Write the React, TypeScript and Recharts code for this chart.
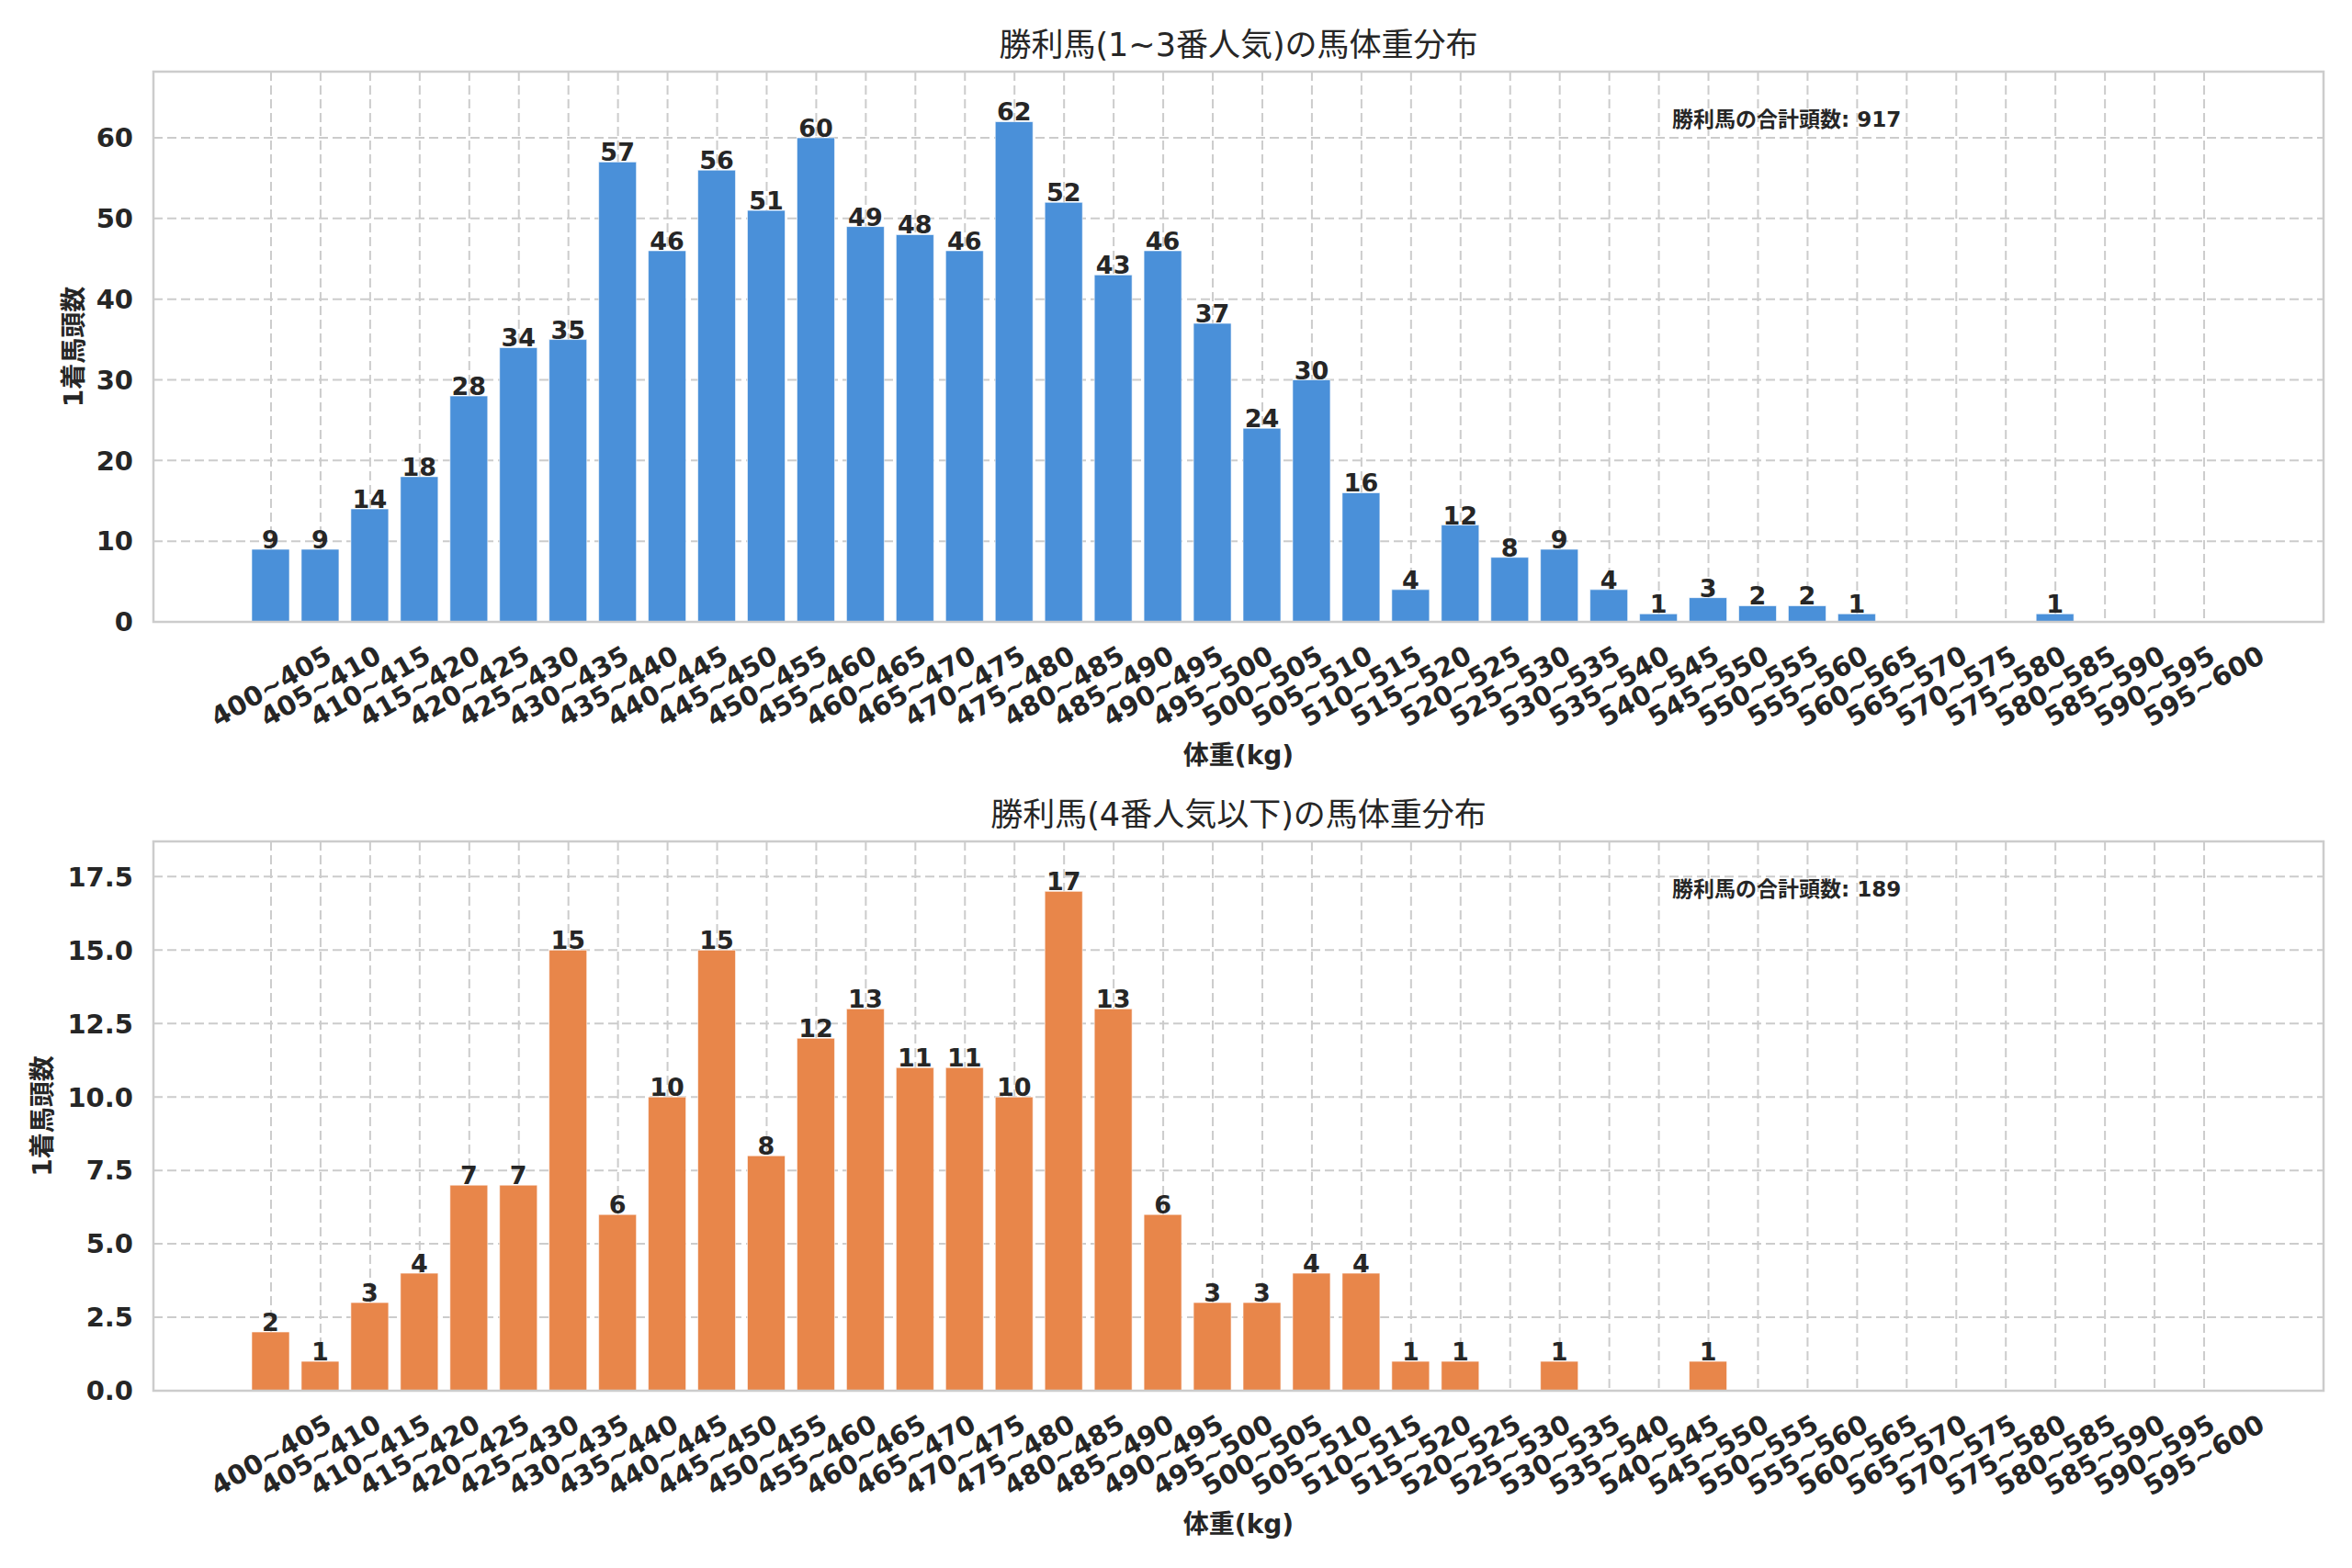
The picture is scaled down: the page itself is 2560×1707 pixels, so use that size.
import React from "react";
import { BarChart, Bar, XAxis, YAxis, CartesianGrid, LabelList } from "recharts";

const weightBins = [
  "400~405", "405~410", "410~415", "415~420", "420~425", "425~430", "430~435", "435~440",
  "440~445", "445~450", "450~455", "455~460", "460~465", "465~470", "470~475", "475~480",
  "480~485", "485~490", "490~495", "495~500", "500~505", "505~510", "510~515", "515~520",
  "520~525", "525~530", "530~535", "535~540", "540~545", "545~550", "550~555", "555~560",
  "560~565", "565~570", "570~575", "575~580", "580~585", "585~590", "590~595", "595~600",
];

// 1~3番人気
const favouriteCounts = [
  9, 9, 14, 18, 28, 34, 35, 57, 46, 56, 51, 60, 49, 48, 46, 62, 52, 43, 46, 37,
  24, 30, 16, 4, 12, 8, 9, 4, 1, 3, 2, 2, 1, 0, 0, 0, 1, 0, 0, 0,
];

// 4番人気以下
const longshotCounts = [
  2, 1, 3, 4, 7, 7, 15, 6, 10, 15, 8, 12, 13, 11, 11, 10, 17, 13, 6, 3,
  3, 4, 4, 1, 1, 0, 1, 0, 0, 1, 0, 0, 0, 0, 0, 0, 0, 0, 0, 0,
];

const favouriteTicks = [0, 10, 20, 30, 40, 50, 60];
const longshotTicks = [0, 2.5, 5, 7.5, 10, 12.5, 15, 17.5];

const FONT = '"DejaVu Sans", "Noto Sans CJK JP", sans-serif';
const INK = "#262626";
const GRID = "#cccccc";

const FIG_W = 2560;
const PLOT_LEFT = 167;
const PLOT_RIGHT = 31;
const X_AXIS_H = 150;

function BinTick(props: any) {
  const { x, y, payload } = props;
  const cy = y + 70;
  return (
    <text
      x={x}
      y={cy}
      textAnchor="middle"
      dominantBaseline="central"
      transform={`rotate(-30 ${x} ${cy})`}
      fontFamily={FONT}
      fontWeight="bold"
      fontSize={29}
      fill={INK}
    >
      {payload.value}
    </text>
  );
}

function valueLabel(props: any) {
  const { x, y, width, value } = props;
  if (!value) return null;
  return (
    <text
      x={x + width / 2}
      y={y - 1}
      textAnchor="middle"
      fontFamily={FONT}
      fontWeight="bold"
      fontSize={27}
      fill={INK}
    >
      {value}
    </text>
  );
}

type PanelProps = {
  counts: number[];
  color: string;
  height: number;
  marginTop: number;
  marginBottom: number;
  yMax: number;
  yTicks: number[];
  decimals: number;
  title: string;
  note: string;
  yLabelX: number;
};

function Panel(p: PanelProps) {
  const data = weightBins.map((bin, i) => ({ bin, count: p.counts[i] }));
  const plotTop = p.marginTop;
  const plotBottom = p.height - p.marginBottom - X_AXIS_H;
  const plotW = FIG_W - PLOT_LEFT - PLOT_RIGHT;
  const midX = PLOT_LEFT + plotW / 2;

  return (
    <div style={{ position: "relative", width: FIG_W, height: p.height }}>
      <BarChart
        width={FIG_W}
        height={p.height}
        data={data}
        margin={{ top: p.marginTop, right: PLOT_RIGHT, left: 0, bottom: p.marginBottom }}
      >
        <CartesianGrid stroke={GRID} strokeDasharray="10 5" strokeWidth={2} />
        <XAxis
          dataKey="bin"
          interval={0}
          height={X_AXIS_H}
          padding={{ left: 101, right: 103 }}
          axisLine={false}
          tickLine={false}
          tickSize={0}
          tickMargin={0}
          tick={<BinTick />}
        />
        <YAxis
          width={PLOT_LEFT}
          domain={[0, p.yMax]}
          ticks={p.yTicks}
          axisLine={false}
          tickLine={false}
          tickSize={0}
          tickMargin={22}
          tickFormatter={(v: number) => v.toFixed(p.decimals)}
          tick={{ fontFamily: FONT, fontWeight: "bold", fontSize: 29, fill: INK }}
        />
        <Bar
          dataKey="count"
          fill={p.color}
          barSize={41}
          stroke="#ffffff"
          strokeOpacity={0.6}
          strokeWidth={1}
          isAnimationActive={false}
        >
          <LabelList dataKey="count" content={valueLabel} />
        </Bar>
      </BarChart>
      <svg
        width={FIG_W}
        height={p.height}
        style={{ position: "absolute", left: 0, top: 0, pointerEvents: "none" }}
      >
        <rect
          x={PLOT_LEFT}
          y={plotTop}
          width={plotW}
          height={plotBottom - plotTop}
          fill="none"
          stroke={GRID}
          strokeWidth={2.5}
        />
        <text
          x={midX}
          y={plotTop - 29}
          textAnchor="middle"
          dominantBaseline="central"
          fontFamily={FONT}
          fontSize={35}
          fill={INK}
        >
          {p.title}
        </text>
        <text
          x={1820}
          y={plotTop + 52}
          dominantBaseline="central"
          fontFamily={FONT}
          fontWeight="bold"
          fontSize={23}
          fill={INK}
        >
          {p.note}
        </text>
        <text
          x={midX}
          y={plotBottom + 145}
          textAnchor="middle"
          dominantBaseline="central"
          fontFamily={FONT}
          fontWeight="bold"
          fontSize={28}
          fill={INK}
        >
          体重(kg)
        </text>
        <text
          x={p.yLabelX}
          y={(plotTop + plotBottom) / 2}
          textAnchor="middle"
          dominantBaseline="central"
          transform={`rotate(-90 ${p.yLabelX} ${(plotTop + plotBottom) / 2})`}
          fontFamily={FONT}
          fontWeight="bold"
          fontSize={28}
          fill={INK}
        >
          1着馬頭数
        </text>
      </svg>
    </div>
  );
}

export default function App() {
  const favTotal = favouriteCounts.reduce((a, b) => a + b, 0);
  const longTotal = longshotCounts.reduce((a, b) => a + b, 0);
  return (
    <div style={{ width: FIG_W, height: 1707, background: "#ffffff" }}>
      <style>{"body{margin:0}"}</style>
      <Panel
        counts={favouriteCounts}
        color="#4a90d9"
        height={853}
        marginTop={78}
        marginBottom={26}
        yMax={68.2}
        yTicks={favouriteTicks}
        decimals={0}
        title="勝利馬(1~3番人気)の馬体重分布"
        note={`勝利馬の合計頭数: ${favTotal}`}
        yLabelX={80}
      />
      <Panel
        counts={longshotCounts}
        color="#e8864a"
        height={854}
        marginTop={63}
        marginBottom={43}
        yMax={18.7}
        yTicks={longshotTicks}
        decimals={1}
        title="勝利馬(4番人気以下)の馬体重分布"
        note={`勝利馬の合計頭数: ${longTotal}`}
        yLabelX={46}
      />
    </div>
  );
}
